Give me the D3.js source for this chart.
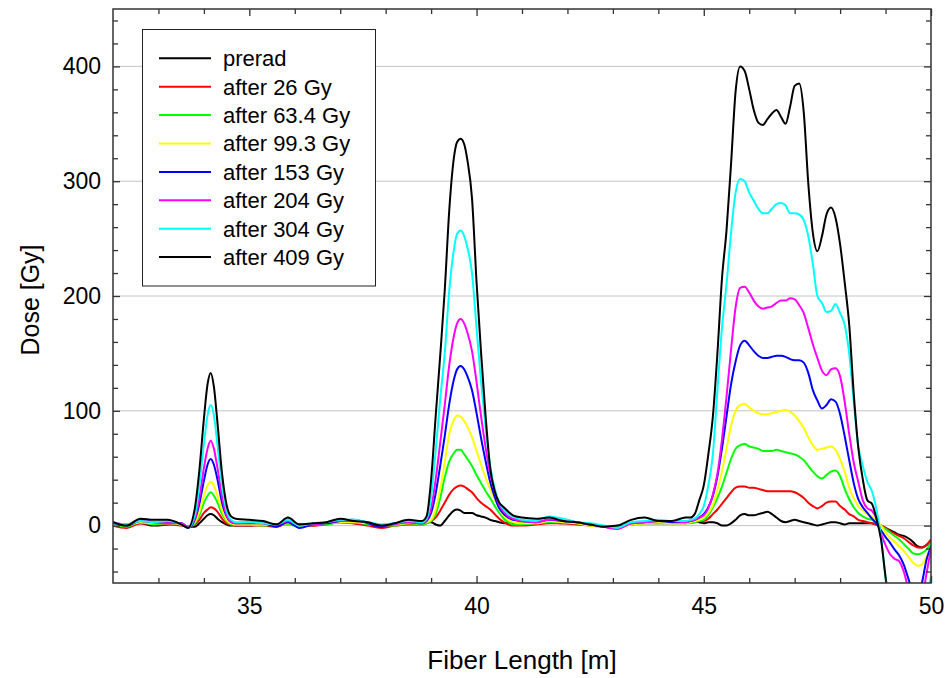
<!DOCTYPE html>
<html><head><meta charset="utf-8">
<script src="https://cdn.jsdelivr.net/npm/d3@7"></script>
<style>body{margin:0;background:#fff} svg{display:block;font-family:"Liberation Sans",Arial,sans-serif}</style>
</head><body><svg id="c" width="946" height="678"></svg>
<script>
const fiberLength = [32.0,32.3,32.6,32.9,33.2,33.5,33.65,
 33.8,33.9,34.0,34.08,34.15,34.22,34.3,34.4,34.5,34.6,34.7,
 35.0,35.3,35.6,35.85,36.1,36.4,36.7,37.0,37.3,37.6,37.9,38.2,38.5,
 38.8,38.9,39.0,39.1,39.2,39.3,39.4,39.5,39.57,39.65,39.73,39.8,39.9,40.0,40.1,40.2,40.3,40.4,40.5,40.6,40.7,40.8,
 41.0,41.3,41.6,41.9,42.2,42.5,42.8,43.1,43.4,43.7,44.0,44.3,
 44.6,44.7,44.8,44.9,45.0,45.1,45.2,45.3,45.4,45.5,45.6,45.7,45.8,45.9,46.0,46.1,46.2,46.3,46.4,46.5,
 46.6,46.7,46.8,46.9,47.0,47.1,47.2,47.3,47.4,47.5,47.6,47.7,47.8,47.9,48.0,48.1,48.2,48.3,48.4,48.5,
 48.6,48.7,48.8,48.9,49.0,49.1,49.2,49.3,49.4,49.5,49.6,49.7,49.8,49.9,50.0];

const prerad = [1,0,2,0,1,2,-1,
 -1,2,6,9,10,9,6,3,1,0,0,
 0,1,1,3,1,0,2,3,2,1,-1,1,2,
 2,3,3,1,0,4,9,13,14,13,11,11,11,9,8,7,5,4,3,2,2,2,
 3,2,3,2,2,1,-1,-2,2,3,3,3,
 3,4,4,3,2, 3,3,2,0,0, 2,5,9,10,9, 9,10,11,12,10, 7,4,3,4,5, 4,3,2,1,0, 1,2,3,3,2, 1,2,2,2,2, 2,2,1,0,-2, -4,-6,-8,-9,-11, -14,-18,-19,-17,-13];

const after26 = [0,-2,2,1,1,0,-1,
 1,5,11,14,16,15,12,6,2,1,0,
 0,0,-1,2,0,0,1,3,2,0,-2,0,1,
 1,2,4,7,13,20,27,32,34,35,34,32,29,24,20,17,14,10,6,3,1,0,
 0,1,2,2,1,0,-1,-1,1,2,2,2,
 2,3,3,4,4, 6,10,14,19,24, 29,33,34,34,33, 33,32,31,30,30, 30,30,30,30,29, 27,24,20,17,15, 17,20,21,21,17, 14,10,8,5,4, 3,2,1,0,-2, -5,-7,-9,-11,-14, -17,-19,-19,-17,-12];

const after63 = [1,-1,3,1,2,1,-1,
 2,9,20,26,29,26,20,10,4,1,1,
 1,0,1,1,-1,1,1,3,3,1,0,0,2,
 1,2,4,10,24,42,56,63,66,66,62,58,52,44,37,30,24,17,11,6,3,1,
 1,2,3,3,2,0,-1,-1,1,2,2,2,
 2,2,3,4,5, 9,16,24,34,46, 58,67,70,71,69, 68,67,65,65,65, 66,65,64,63,62, 60,57,52,47,43, 41,44,47,48,43, 32,23,16,11,8, 6,5,3,0,-3, -6,-9,-12,-16,-20, -24,-25,-24,-21,-15];

const after99 = [1,0,3,2,2,1,-1,
 3,12,26,35,38,35,26,13,5,2,1,
 1,1,0,2,0,1,2,3,3,2,0,1,2,
 2,3,5,14,32,55,80,92,96,95,91,86,77,65,53,42,32,23,15,9,5,3,
 2,2,4,3,2,0,-1,-2,1,2,3,2,
 2,3,4,5,7, 11,18,31,47,67, 87,100,105,106,103, 100,98,97,97,98, 99,100,101,99,96, 91,85,77,70,66, 67,68,69,66,58, 47,33,24,17,13, 10,8,4,0,-6, -11,-14,-18,-22,-27, -32,-35,-34,-27,-21];

const after153 = [2,0,4,3,3,2,-2,
 5,19,39,53,58,53,40,20,8,3,2,
 2,2,-1,3,-2,1,2,4,5,2,-1,2,3,
 2,4,11,28,52,78,106,127,136,139,136,130,118,98,76,56,38,25,15,10,7,5,
 4,3,5,4,3,1,-1,-2,2,3,4,3,
 3,4,5,7,10, 16,26,43,67,95, 123,143,157,161,157, 152,148,146,146,147, 148,148,147,145,144, 144,142,133,118,109, 102,105,110,108,97, 78,57,37,23,16, 11,6,2,-4,-10, -15,-21,-26,-34,-46, -58,-62,-50,-30,-18];

const after204 = [3,1,5,3,2,2,-1,
 6,24,50,67,74,67,50,25,9,3,2,
 3,2,1,4,1,1,3,4,4,3,0,1,3,
 2,5,15,40,72,105,140,165,176,180,176,168,152,125,95,68,45,30,18,12,8,6,
 4,3,5,5,3,1,-1,-3,2,3,4,4,
 3,4,5,7,9, 15,27,45,75,112, 153,190,207,208,203, 196,191,189,190,191, 194,196,196,198,197, 192,185,172,158,146, 135,131,136,137,130, 108,80,55,38,22, 15,13,6,-7,-17, -25,-29,-31,-40,-55, -70,-75,-65,-42,-20];

const after304 = [2,1,4,3,4,1,-2,
 9,35,71,96,105,96,70,35,13,5,3,
 3,2,1,5,0,2,3,5,5,3,1,2,4,
 3,6,25,65,110,150,205,240,254,257,252,242,220,172,125,85,52,32,20,14,10,8,
 5,4,8,6,3,2,0,-2,3,4,5,4,
 4,5,6,10,17, 35,62,118,172,210, 255,290,302,300,290, 283,276,272,272,276, 280,281,279,272,272, 271,266,252,228,200, 194,186,187,193,185, 175,150,108,69,52, 38,30,14,-10,-45, -65,-80,-88,-90,-90, -90,-85,-75,-60,-45];

const after409 = [3,0,6,5,5,1,-2,
 15,48,93,123,133,121,89,45,18,8,6,
 5,4,1,7,1,2,3,6,4,3,0,2,5,
 4,8,40,95,148,205,275,320,334,337,332,318,285,212,150,95,50,30,20,16,12,9,
 7,6,7,4,3,1,-1,0,5,7,4,4,
 7,7,10,22,35, 62,95,150,215,257, 315,378,400,396,380, 362,351,349,354,359, 362,356,350,365,383, 385,360,298,255,239, 252,271,277,268,245, 212,175,115,68,40, 22,19,6,-12,-45, -75,-90,-95,-95,-95, -95,-95,-95,-95,-95];

const seriesNames = ["prerad","after 26 Gy","after 63.4 Gy","after 99.3 Gy","after 153 Gy","after 204 Gy","after 304 Gy","after 409 Gy"];
const seriesValues = [prerad, after26, after63, after99, after153, after204, after304, after409];
const seriesColors = ["#000000","#ff0000","#00ff00","#ffff00","#0000ff","#ff00ff","#00ffff","#000000"];
const xMajorTicks = [35,40,45,50];
const xMinorTicks = [33,34,36,37,38,39,41,42,43,44,46,47,48,49];
const yMajorTicks = [0,100,200,300,400];
const yMinorTicks = [-40,-20,20,40,60,80,120,140,160,180,220,240,260,280,320,340,360,380,420,440];

const svg = d3.select("#c");
const L = 113, R = 931, T = 9, B = 583;
const x = d3.scaleLinear().domain([32,50]).range([L,R]);
const y = d3.scaleLinear().domain([-50,450]).range([B,T]);

svg.append("defs").append("clipPath").attr("id","clip")
  .append("rect").attr("x",L).attr("y",T).attr("width",R-L).attr("height",B-T);

// gridlines
svg.append("g").selectAll("line").data(yMajorTicks).join("line")
  .attr("x1",L).attr("x2",R).attr("y1",d=>y(d)).attr("y2",d=>y(d))
  .attr("stroke","#c4c4c4").attr("stroke-width",1);

// lines
const line = d3.line().x((d,i)=>x(fiberLength[i])).y(d=>y(d)).curve(d3.curveMonotoneX);
const lg = svg.append("g").attr("clip-path","url(#clip)");
seriesValues.forEach((vals,k)=>{
  lg.append("path").datum(vals).attr("d",line)
    .attr("fill","none").attr("stroke",seriesColors[k]).attr("stroke-width",2)
    .attr("stroke-linejoin","round");
});

// axes
function styleAxis(g){ g.select(".domain").remove(); g.selectAll("line").attr("stroke","#333").attr("stroke-width",1.3); }
const fs = "23px";
svg.append("g").attr("transform",`translate(${L},0)`)
  .call(d3.axisLeft(y).tickValues(yMajorTicks).tickSize(-7).tickPadding(12))
  .call(styleAxis).call(g=>g.selectAll("text").attr("font-size",fs).attr("fill","#000").style("font-family","Liberation Sans, Arial, sans-serif"));
svg.append("g").attr("transform",`translate(${L},0)`)
  .call(d3.axisLeft(y).tickValues(yMinorTicks).tickSize(-5).tickFormat("")).call(styleAxis);
svg.append("g").attr("transform",`translate(${R},0)`)
  .call(d3.axisRight(y).tickValues(yMajorTicks).tickSize(-7).tickFormat("")).call(styleAxis);
svg.append("g").attr("transform",`translate(${R},0)`)
  .call(d3.axisRight(y).tickValues(yMinorTicks).tickSize(-5).tickFormat("")).call(styleAxis);
svg.append("g").attr("transform",`translate(0,${B})`)
  .call(d3.axisBottom(x).tickValues(xMajorTicks).tickSize(-7).tickPadding(15))
  .call(styleAxis).call(g=>g.selectAll("text").attr("font-size",fs).attr("fill","#000").style("font-family","Liberation Sans, Arial, sans-serif"));
svg.append("g").attr("transform",`translate(0,${B})`)
  .call(d3.axisBottom(x).tickValues(xMinorTicks).tickSize(-5).tickFormat("")).call(styleAxis);
svg.append("g").attr("transform",`translate(0,${T})`)
  .call(d3.axisTop(x).tickValues(xMajorTicks).tickSize(-7).tickFormat("")).call(styleAxis);
svg.append("g").attr("transform",`translate(0,${T})`)
  .call(d3.axisTop(x).tickValues(xMinorTicks).tickSize(-5).tickFormat("")).call(styleAxis);

// frame
svg.append("rect").attr("x",L).attr("y",T).attr("width",R-L).attr("height",B-T)
  .attr("fill","none").attr("stroke","#333").attr("stroke-width",1.5);

// axis titles
svg.append("text").attr("x",522).attr("y",669).attr("text-anchor","middle")
  .attr("font-size","26px").text("Fiber Length [m]");
svg.append("text").attr("transform","translate(39,300) rotate(-90)").attr("text-anchor","middle")
  .attr("font-size","25px").text("Dose [Gy]");

// legend
const leg = svg.append("g");
leg.append("rect").attr("x",142.5).attr("y",29.5).attr("width",233).attr("height",256.5)
  .attr("fill","#fff").attr("stroke","#222").attr("stroke-width",1);
seriesNames.forEach((n,i)=>{
  const yy = 58.3 + i*28.4;
  leg.append("line").attr("x1",159).attr("x2",211).attr("y1",yy).attr("y2",yy)
    .attr("stroke",seriesColors[i]).attr("stroke-width",2);
  leg.append("text").attr("x",223).attr("y",yy).attr("dy","0.36em")
    .attr("font-size","22px").text(n);
});
</script></body></html>
